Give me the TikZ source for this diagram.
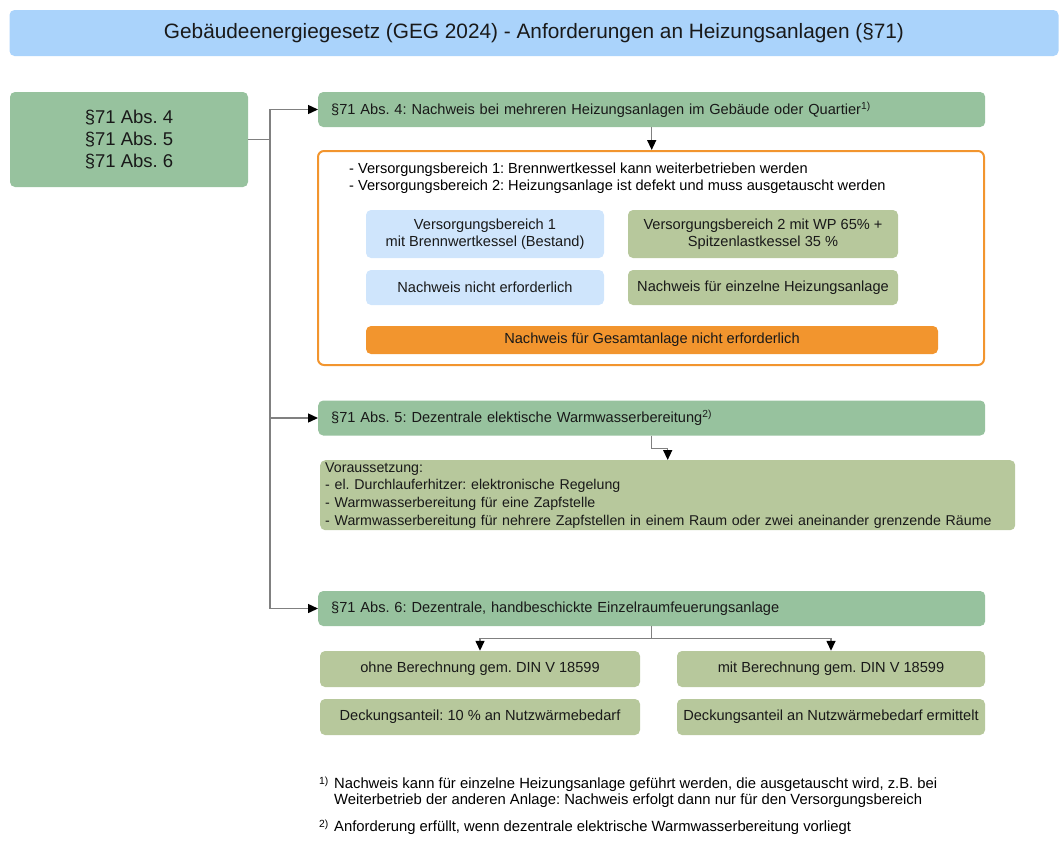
\documentclass[tikz,border=0pt]{standalone}
\usepackage{fontspec}
\setmainfont{Liberation Sans}
\usetikzlibrary{positioning, arrows.meta}
\definecolor{titleblue}{RGB}{170,211,251}
\definecolor{paragreen}{RGB}{151,194,158}
\definecolor{paleblue}{RGB}{207,229,252}
\definecolor{olivegreen}{RGB}{183,200,156}
\definecolor{gegorange}{RGB}{242,149,46}
\definecolor{linegray}{RGB}{128,128,128}
\frenchspacing

\begin{document}
\begin{tikzpicture}[x=1pt, y=-1pt,
        box/.style={rounded corners=5pt, inner sep=0pt, align=center, text=black!90,
            font=\fontsize{14.6}{17.5}\selectfont},
        titlebox/.style={box, fill=titleblue, font=\fontsize{20.8}{24}\selectfont},
        parabox/.style={box, fill=paragreen},
        headbox/.style={box, fill=paragreen, anchor=west, align=left, inner xsep=13pt,
            text width=641pt, minimum height=35pt},
        bluebox/.style={box, fill=paleblue},
        olivebox/.style={box, fill=olivegreen},
        orangebox/.style={box, fill=gegorange},
        plain/.style={draw=linegray, line width=1.4pt},
        link/.style={plain, -{Triangle[length=10pt, width=9pt, black]}},
        note/.style={anchor=north west, inner sep=0pt, align=left,
            font=\fontsize{14.8}{16}\selectfont}
    ]
    \useasboundingbox (0,0) rectangle (1059,841);

    % title
    \node[titlebox, minimum width=1049pt, minimum height=46pt] (title) at (534,33)
        {Gebäudeenergiegesetz (GEG 2024) - Anforderungen an Heizungsanlagen (§71)};

    % left box
    \node[parabox, minimum width=238pt, minimum height=95pt, font=\fontsize{18.5}{22}\selectfont]
        (sec) at (129,139.5) {§71 Abs. 4\\§71 Abs. 5\\§71 Abs. 6};

    % Abs. 4
    \node[headbox] (abs4) at (318,109.5)
        {§71 Abs. 4: Nachweis bei mehreren Heizungsanlagen im Gebäude oder Quartier\textsuperscript{1)}};
    \node[draw=gegorange, line width=2pt, rounded corners=6pt, minimum width=666pt,
        minimum height=214pt] (frame) at (651,258) {};
    \node[note, font=\fontsize{14.6}{17}\selectfont] (cases) at (349,163)
        {- Versorgungsbereich 1: Brennwertkessel kann weiterbetrieben werden\\
         - Versorgungsbereich 2: Heizungsanlage ist defekt und muss ausgetauscht werden};
    \node[bluebox, minimum width=238pt, minimum height=48pt] (vb1) at (485,234)
        {Versorgungsbereich 1\\mit Brennwertkessel (Bestand)};
    \node[bluebox, minimum width=238pt, minimum height=35pt] (vb1n) at (485,287.5)
        {Nachweis nicht erforderlich};
    \node[olivebox, minimum width=270pt, minimum height=48pt] (vb2) at (763,234)
        {Versorgungsbereich 2 mit WP 65\% +\\Spitzenlastkessel 35 \%};
    \node[olivebox, minimum width=270pt, minimum height=35pt] (vb2n) at (763,287.5)
        {Nachweis für einzelne Heizungsanlage};
    \node[orangebox, minimum width=572pt, minimum height=28pt] (total) at (652,340)
        {Nachweis für Gesamtanlage nicht erforderlich};

    % Abs. 5
    \node[headbox] (abs5) at (318,418)
        {§71 Abs. 5: Dezentrale elektische Warmwasserbereitung\textsuperscript{2)}};
    \node[olivebox, anchor=north west, align=left, inner xsep=5pt, inner ysep=0pt,
        text width=685pt, minimum height=70pt, font=\fontsize{14.2}{17.7}\selectfont]
        (cond) at (320,460)
        {Voraussetzung:\\
         - el. Durchlauferhitzer: elektronische Regelung\\
         - Warmwasserbereitung für eine Zapfstelle\\
         - Warmwasserbereitung für nehrere Zapfstellen in einem Raum oder zwei aneinander grenzende Räume};

    % Abs. 6
    \node[headbox] (abs6) at (318,608.5)
        {§71 Abs. 6: Dezentrale, handbeschickte Einzelraumfeuerungsanlage};
    \node[olivebox, minimum width=320pt, minimum height=36pt] (ohne) at (480,669)
        {ohne Berechnung gem. DIN V 18599};
    \node[olivebox, minimum width=308pt, minimum height=36pt] (mit) at (831,669)
        {mit Berechnung gem. DIN V 18599};
    \node[olivebox, minimum width=320pt, minimum height=36pt] (deck1) at (480,717)
        {Deckungsanteil: 10 \% an Nutzwärmebedarf};
    \node[olivebox, minimum width=308pt, minimum height=36pt] (deck2) at (831,717)
        {Deckungsanteil an Nutzwärmebedarf ermittelt};

    % footnotes
    \node[note, anchor=north east] (fn1m) at (329,777) {\textsuperscript{1)}};
    \node[note] (fn1) at (334,778)
        {Nachweis kann für einzelne Heizungsanlage geführt werden, die ausgetauscht wird, z.B. bei\\
         Weiterbetrieb der anderen Anlage: Nachweis erfolgt dann nur für den Versorgungsbereich};
    \node[note, anchor=north east] (fn2m) at (329,820) {\textsuperscript{2)}};
    \node[note] (fn2) at (334,821)
        {Anforderung erfüllt, wenn dezentrale elektrische Warmwasserbereitung vorliegt};

    % connectors
    \coordinate (trunk) at (270,139.5);
    \draw[plain] (sec.east) -- (trunk);
    \draw[link] (trunk) |- (abs4.west);
    \draw[link] (trunk) |- (abs5.west);
    \draw[link] (trunk) |- (abs6.west);
    \draw[link] (abs4.south) -- (abs4.south |- frame.north);
    \draw[link] (abs5.south) -- ++(0,13) -| (cond.north);
    \draw[link] (abs6.south) -- ++(0,12) -| (ohne.north);
    \draw[link] (abs6.south) -- ++(0,12) -| (mit.north);
\end{tikzpicture}
\end{document}
